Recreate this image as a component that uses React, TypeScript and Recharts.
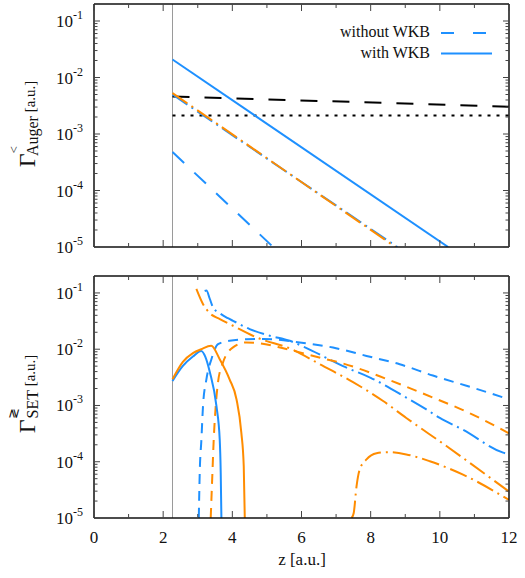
import React from "react";
import { LineChart, Line, XAxis, YAxis, ReferenceLine } from "recharts";

type Pt = { z: number; v: number };

const zMajor = [0, 2, 4, 6, 8, 10, 12];
const zMinor = [1, 3, 5, 7, 9, 11];
const decades = [1e-5, 1e-4, 1e-3, 1e-2, 1e-1];
const minorSteps = [2, 3, 4, 5, 6, 7, 8, 9];
const yDomain = [1e-5, 0.2];
const zSurface = 2.27;

// upper panel: Auger rates
const augerRef: Pt[] = [{ z: 2.27, v: 4.6e-3 }, { z: 12, v: 3.05e-3 }];
const augerFlat: Pt[] = [{ z: 2.27, v: 2.12e-3 }, { z: 12, v: 2.12e-3 }];
const augerWithWkb: Pt[] = [{ z: 2.27, v: 2.08e-2 }, { z: 10.24, v: 1e-5 }];
const augerNoWkb: Pt[] = [{ z: 2.27, v: 4.8e-4 }, { z: 5.18, v: 1e-5 }];
const augerBlueDashDot: Pt[] = [{ z: 2.27, v: 5.0e-3 }, { z: 8.77, v: 1e-5 }];
const augerOrangeDashDot: Pt[] = [{ z: 2.27, v: 5.3e-3 }, { z: 8.72, v: 1e-5 }];

// lower panel: SET rates
const setBlueSolid: Pt[] = [
  { z: 2.27, v: 2.73e-3 }, { z: 2.57, v: 5.05e-3 }, { z: 2.86, v: 7.4e-3 }, { z: 3.1, v: 9.3e-3 },
  { z: 3.22, v: 7.3e-3 }, { z: 3.35, v: 3.9e-3 }, { z: 3.54, v: 9.8e-4 }, { z: 3.635, v: 2.5e-4 },
  { z: 3.664, v: 6.5e-5 }, { z: 3.684, v: 1e-5 },
];
const setOrangeSolid: Pt[] = [
  { z: 2.27, v: 2.92e-3 }, { z: 2.57, v: 5.96e-3 }, { z: 2.86, v: 8.5e-3 }, { z: 3.1, v: 1.0e-2 },
  { z: 3.39, v: 1.15e-2 }, { z: 3.635, v: 6.65e-3 }, { z: 3.92, v: 2.92e-3 }, { z: 4.12, v: 1.29e-3 },
  { z: 4.26, v: 3.3e-4 }, { z: 4.33, v: 8.3e-5 }, { z: 4.36, v: 1e-5 },
];
const setBlueDashed: Pt[] = [
  { z: 3.03, v: 1e-5 }, { z: 3.057, v: 6.3e-5 }, { z: 3.106, v: 2.5e-4 }, { z: 3.152, v: 9.8e-4 },
  { z: 3.25, v: 2.92e-3 }, { z: 3.395, v: 6.65e-3 }, { z: 3.586, v: 1.23e-2 }, { z: 3.92, v: 1.41e-2 },
  { z: 4.4, v: 1.5e-2 }, { z: 4.9, v: 1.52e-2 }, { z: 5.95, v: 1.32e-2 }, { z: 6.91, v: 1.07e-2 },
  { z: 7.88, v: 7.6e-3 }, { z: 8.84, v: 5.4e-3 }, { z: 9.8, v: 3.4e-3 }, { z: 10.77, v: 2.24e-3 },
  { z: 12, v: 1.29e-3 },
];
const setOrangeDashed: Pt[] = [
  { z: 3.375, v: 1e-5 }, { z: 3.424, v: 6.3e-5 }, { z: 3.462, v: 2.5e-4 }, { z: 3.52, v: 9.8e-4 },
  { z: 3.586, v: 2.59e-3 }, { z: 3.73, v: 5.8e-3 }, { z: 4.02, v: 1.08e-2 }, { z: 4.41, v: 1.32e-2 },
  { z: 4.79, v: 1.27e-2 }, { z: 5.5, v: 1.03e-2 }, { z: 6.72, v: 6.6e-3 }, { z: 7.1, v: 5.8e-3 },
  { z: 8.5, v: 2.9e-3 }, { z: 9.8, v: 1.38e-3 }, { z: 10.57, v: 8.8e-4 }, { z: 11.15, v: 6.0e-4 },
  { z: 12, v: 3.2e-4 },
];
const setBlueDashDot: Pt[] = [
  { z: 3.2, v: 0.108 }, { z: 3.25, v: 0.11 }, { z: 3.35, v: 0.078 }, { z: 3.44, v: 0.0556 },
  { z: 3.635, v: 0.0436 }, { z: 3.875, v: 0.0355 }, { z: 4.02, v: 0.032 }, { z: 4.5, v: 0.0228 },
  { z: 5.08, v: 0.0174 }, { z: 5.66, v: 0.0141 }, { z: 6.1, v: 0.0108 }, { z: 7.2, v: 5.0e-3 },
  { z: 8.0, v: 3.1e-3 }, { z: 9.03, v: 1.38e-3 }, { z: 9.61, v: 8.5e-4 }, { z: 10.0, v: 6.0e-4 },
  { z: 10.67, v: 3.7e-4 }, { z: 11.83, v: 1.45e-4 }, { z: 12, v: 1.35e-4 },
];
const setOrangeDashDot: Pt[] = [
  { z: 2.96, v: 0.118 }, { z: 3.15, v: 0.0637 }, { z: 3.35, v: 0.0435 }, { z: 3.64, v: 0.0344 },
  { z: 4.02, v: 0.0261 }, { z: 4.7, v: 0.0162 }, { z: 5.75, v: 9.8e-3 }, { z: 6.53, v: 5.4e-3 },
  { z: 7.49, v: 2.6e-3 }, { z: 8.36, v: 1.2e-3 }, { z: 9.03, v: 6.0e-4 }, { z: 10.19, v: 1.9e-4 },
  { z: 12, v: 2.95e-5 },
];
const setOrangeBump: Pt[] = [
  { z: 7.45, v: 1e-5 }, { z: 7.51, v: 1.23e-5 }, { z: 7.59, v: 3.6e-5 }, { z: 7.68, v: 7.2e-5 },
  { z: 7.88, v: 1.1e-4 }, { z: 8.17, v: 1.41e-4 }, { z: 8.5, v: 1.48e-4 }, { z: 9.03, v: 1.35e-4 },
  { z: 9.71, v: 1.02e-4 }, { z: 10.67, v: 5.9e-5 }, { z: 12, v: 2.1e-5 },
];

const BLUE = "#1e90ff";
const ORANGE = "#ff8c00";
const SERIF = "Liberation Serif, DejaVu Serif, serif";
const DASH_DOT = "18 5 2 5";

const zTicks = [...zMajor, ...zMinor];
const yTicks = [...decades, ...decades.slice(0, 4).flatMap((d) => minorSteps.map((m) => m * d))];
const isDecade = (v: number) => Math.abs(Math.log10(v) - Math.round(Math.log10(v))) < 1e-6;
const serifText = { fontFamily: SERIF };

// inward tick marks drawn by hand, so one axis per side can carry both major and minor ticks
function xTick(side: "top" | "bottom", labelled: boolean) {
  return (p: any) => {
    const v = p.payload.value;
    const major = v % 2 === 0;
    const len = major ? 7 : 4;
    const dir = side === "bottom" ? -1 : 1;
    return (
      <g>
        <line x1={p.x} x2={p.x} y1={p.y} y2={p.y + dir * len} stroke="#444" strokeWidth={1} />
        {labelled && major && (
          <text x={p.x} y={p.y + 25} textAnchor="middle" style={serifText} fontSize={17} fill="#111">
            {v}
          </text>
        )}
      </g>
    );
  };
}

function yTick(side: "left" | "right", labelled: boolean) {
  return (p: any) => {
    const v = p.payload.value;
    const major = isDecade(v);
    const len = major ? 6 : 3.5;
    const dir = side === "left" ? 1 : -1;
    return (
      <g>
        <line x1={p.x} x2={p.x + dir * len} y1={p.y} y2={p.y} stroke="#444" strokeWidth={1} />
        {labelled && major && (
          <text x={p.x - 11} y={p.y + 6} textAnchor="end" style={serifText} fontSize={17} fill="#111">
            <tspan>10</tspan>
            <tspan fontSize={12} dy={-8}>{`-${-Math.round(Math.log10(v))}`}</tspan>
          </text>
        )}
      </g>
    );
  };
}

function frameAxes(labelZ: boolean) {
  const frame = { stroke: "#111", strokeWidth: 1.5 };
  const common = { tickSize: 0, tickMargin: 0, tickLine: false, axisLine: frame, interval: 0 as const };
  return [
    <XAxis key="xb" xAxisId="b" type="number" dataKey="z" domain={[0, 12]} allowDataOverflow ticks={zTicks}
      orientation="bottom" height={1} tick={xTick("bottom", labelZ)} {...common} />,
    <XAxis key="xt" xAxisId="t" type="number" dataKey="z" domain={[0, 12]} allowDataOverflow ticks={zTicks}
      orientation="top" height={1} tick={xTick("top", false)} {...common} />,
    <YAxis key="yl" yAxisId="l" type="number" scale="log" domain={yDomain} allowDataOverflow ticks={yTicks}
      orientation="left" width={1} tick={yTick("left", true)} {...common} />,
    <YAxis key="yr" yAxisId="r" type="number" scale="log" domain={yDomain} allowDataOverflow ticks={yTicks}
      orientation="right" width={1} tick={yTick("right", false)} {...common} />,
  ];
}

function series(data: Pt[], color: string, dash: string | undefined, curve: "linear" | "monotone", key: string) {
  return (
    <Line key={key} xAxisId="b" yAxisId="l" data={data} dataKey="v" type={curve} stroke={color}
      strokeWidth={2} strokeDasharray={dash} dot={false} activeDot={false} isAnimationActive={false} />
  );
}

// rotated axis title: big Gamma with a stacked superscript and subscript
function RateTitle({ cx, cy, sup, sub }: { cx: number; cy: number; sup: string; sub: string }) {
  return (
    <text transform={`translate(${cx},${cy}) rotate(-90)`} textAnchor="middle" fontSize={15}>
      <tspan fontSize={24}>Γ</tspan>
      <tspan fontSize={13} dy={-17}>{sup}</tspan>
      <tspan fontSize={16} dx={-10} dy={20}>{sub}</tspan>
      <tspan dy={-3}> [a.u.]</tspan>
    </text>
  );
}

export default function App() {
  return (
    <div style={{ position: "absolute", left: 0, top: 0, width: 525, height: 578, background: "#fff", fontFamily: SERIF }}>
      <div style={{ position: "absolute", left: 0, top: 0 }}>
        <LineChart width={525} height={258} margin={{ top: 3, right: 15, bottom: 10, left: 93 }}
          style={{ overflow: "visible" }}>
          {frameAxes(false)}
          <ReferenceLine xAxisId="b" yAxisId="l" x={zSurface} stroke="#9a9a9a" strokeWidth={1} />
          {series(augerRef, "#000", "17 15", "linear", "ref")}
          {series(augerFlat, "#000", "3 6", "linear", "flat")}
          {series(augerWithWkb, BLUE, undefined, "linear", "wkb")}
          {series(augerNoWkb, BLUE, "16 14", "linear", "nowkb")}
          {series(augerBlueDashDot, BLUE, DASH_DOT, "linear", "bdd")}
          {series(augerOrangeDashDot, ORANGE, DASH_DOT, "linear", "odd")}
        </LineChart>
      </div>
      <div style={{ position: "absolute", left: 0, top: 260 }}>
        <LineChart width={525} height={318} margin={{ top: 15, right: 15, bottom: 59, left: 93 }}>
          {frameAxes(true)}
          <ReferenceLine xAxisId="b" yAxisId="l" x={zSurface} stroke="#9a9a9a" strokeWidth={1} />
          {series(setBlueDashDot, BLUE, DASH_DOT, "monotone", "bdd")}
          {series(setOrangeDashDot, ORANGE, DASH_DOT, "monotone", "odd")}
          {series(setOrangeBump, ORANGE, DASH_DOT, "monotone", "bump")}
          {series(setBlueDashed, BLUE, "10 7", "monotone", "bd")}
          {series(setOrangeDashed, ORANGE, "10 7", "monotone", "od")}
          {series(setBlueSolid, BLUE, undefined, "monotone", "bs")}
          {series(setOrangeSolid, ORANGE, undefined, "monotone", "os")}
        </LineChart>
      </div>
      <svg style={{ position: "absolute", left: 0, top: 0, pointerEvents: "none", fontFamily: SERIF }}
        width={525} height={578} fill="#111">
        <text x={430} y={37} textAnchor="end" fontSize={16}>without WKB</text>
        <line x1={441} x2={492} y1={33} y2={33} stroke={BLUE} strokeWidth={2} strokeDasharray="13 19" />
        <text x={430} y={58} textAnchor="end" fontSize={16}>with WKB</text>
        <line x1={441} x2={492} y1={53.5} y2={53.5} stroke={BLUE} strokeWidth={2} />

        <RateTitle cx={35} cy={124} sup="<" sub="Auger" />
        <RateTitle cx={35} cy={394} sup="≷" sub="SET" />
        <text x={302} y={565} textAnchor="middle" fontSize={17}>z [a.u.]</text>
      </svg>
    </div>
  );
}
